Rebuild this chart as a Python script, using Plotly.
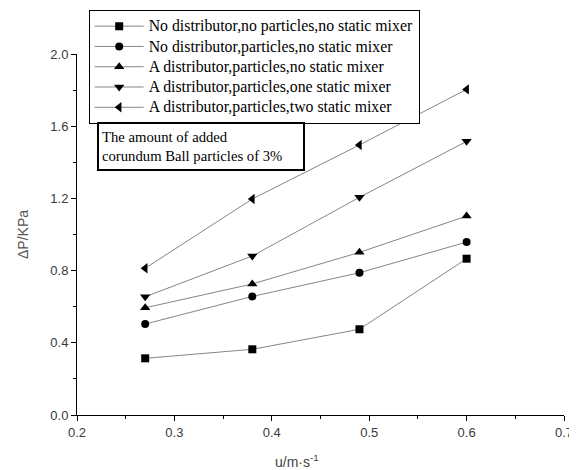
import plotly.graph_objects as go

velocity = [0.27, 0.38, 0.49, 0.60]
series_names = [
    "No distributor,no particles,no static mixer",
    "No distributor,particles,no static mixer",
    "A distributor,particles,no static mixer",
    "A distributor,particles,one static mixer",
    "A distributor,particles,two static mixer",
]
dp_no_dist_no_part = [0.314, 0.364, 0.475, 0.866]
dp_no_dist_part = [0.504, 0.657, 0.788, 0.958]
dp_dist_part = [0.594, 0.726, 0.901, 1.102]
dp_dist_part_one_mixer = [0.655, 0.881, 1.206, 1.516]
dp_dist_part_two_mixer = [0.813, 1.197, 1.496, 1.804]
series_values = [dp_no_dist_no_part, dp_no_dist_part, dp_dist_part,
                 dp_dist_part_one_mixer, dp_dist_part_two_mixer]
symbols = ["square", "circle", "triangle-up", "triangle-down", "triangle-left"]
x_ticks = [0.2, 0.3, 0.4, 0.5, 0.6, 0.7]
y_ticks = [0.0, 0.4, 0.8, 1.2, 1.6, 2.0]

fig = go.Figure()
for name, vals, sym in zip(series_names, series_values, symbols):
    fig.add_trace(go.Scatter(
        x=velocity, y=vals, name=f'<span style="font-size:15.8px">{name}</span>',
        mode="lines+markers",
        line=dict(color="#858585", width=1),
        marker=dict(symbol=sym, size=8 if sym in ("square", "circle") else 9, color="black"),
    ))

axis_common = dict(
    showline=True, linecolor="black", linewidth=1, showgrid=False, zeroline=False,
    ticks="outside", ticklen=5, tickcolor="black", mirror=False, automargin=False,
    tickfont=dict(family="Liberation Sans", size=13, color="#3a3a3a"),
)
fig.update_xaxes(range=[0.2, 0.7], tickvals=x_ticks, ticktext=[f"{v:.1f}" for v in x_ticks],
                 minor=dict(dtick=0.05, ticks="outside", ticklen=3, tickcolor="black"),
                 **axis_common)
fig.update_yaxes(range=[0, 2.0], tickvals=y_ticks, ticktext=[f"{v:.1f}" for v in y_ticks],
                 minor=dict(dtick=0.2, ticks="outside", ticklen=3, tickcolor="black"),
                 title=dict(text="ΔP/KPa", font=dict(family="Liberation Sans", size=14, color="#555555"),
                            standoff=18),
                 **axis_common)

fig.add_annotation(
    x=0.4255, y=-0.127, xref="x", yref="paper", showarrow=False, yanchor="middle",
    text="u/m·s<sup>-1</sup>", font=dict(family="Liberation Sans", size=14, color="#444444"),
)
fig.add_annotation(
    x=0.2202, y=1.623, xref="x", yref="y", xanchor="left", yanchor="top", showarrow=False,
    text="The amount of added<br>corundum Ball particles of 3%", align="left",
    width=198, height=39, borderpad=3, bordercolor="black", borderwidth=2, bgcolor="white",
    font=dict(family="Liberation Serif", size=14.7, color="black"),
)

fig.update_layout(
    width=569, height=462,
    margin=dict(l=69, r=13, t=46, b=55, autoexpand=False),
    plot_bgcolor="white", paper_bgcolor="white",
    legend=dict(
        orientation="v", entrywidthmode="pixels", entrywidth=334,
        x=0.024, y=1.1219, xanchor="left", yanchor="top",
        bgcolor="white", bordercolor="black", borderwidth=1,
        font=dict(family="Liberation Serif", size=13.3, color="black"),
        tracegroupgap=0, itemwidth=49,
    ),
)
fig.write_html("out.html")
